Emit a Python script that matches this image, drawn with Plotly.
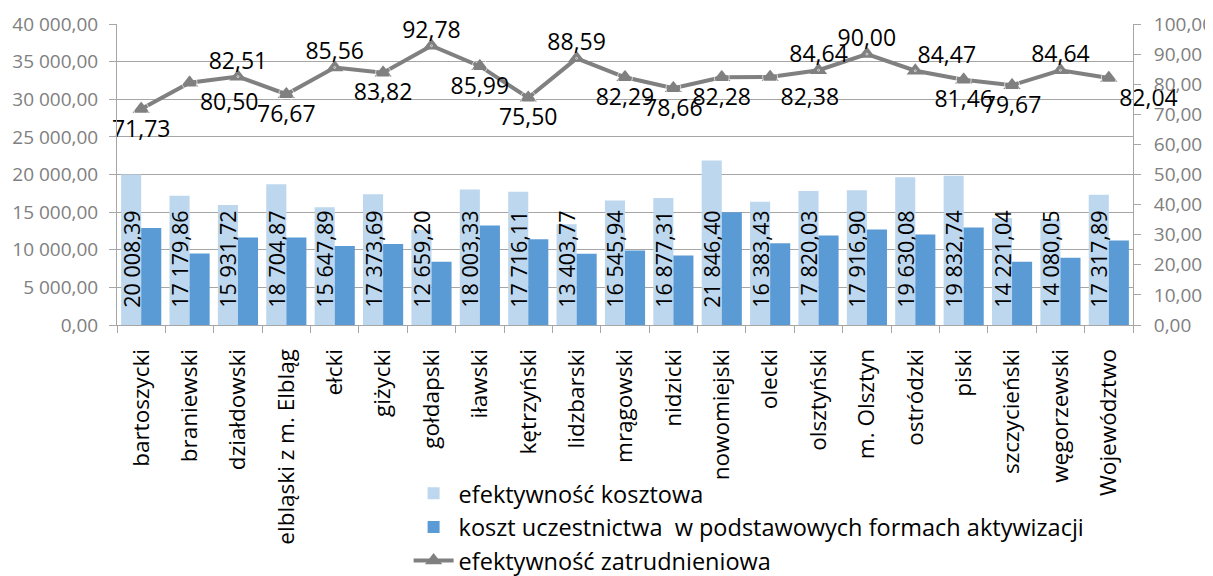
import plotly.graph_objects as go

categories = ["bartoszycki", "braniewski", "działdowski", "elbląski z m. Elbląg", "ełcki",
              "giżycki", "gołdapski", "iławski", "kętrzyński", "lidzbarski", "mrągowski",
              "nidzicki", "nowomiejski", "olecki", "olsztyński", "m. Olsztyn", "ostródzki",
              "piski", "szczycieński", "węgorzewski", "Województwo"]

efektywnosc_kosztowa = [20008.39, 17179.86, 15931.72, 18704.87, 15647.89, 17373.69, 12659.20,
                        18003.33, 17716.11, 13403.77, 16545.94, 16877.31, 21846.40, 16383.43,
                        17820.03, 17916.90, 19630.08, 19832.74, 14221.04, 14080.05, 17317.89]

koszt_uczestnictwa = [12900, 9500, 11630, 11620, 10510, 10780, 8400, 13220, 11400, 9460, 9900,
                      9240, 14980, 10870, 11890, 12690, 12020, 12950, 8400, 8930, 11230]

efektywnosc_zatrudnieniowa = [71.73, 80.50, 82.51, 76.67, 85.56, 83.82, 92.78, 85.99, 75.50,
                              88.59, 82.29, 78.66, 82.28, 82.38, 84.64, 90.00, 84.47, 81.46,
                              79.67, 84.64, 82.04]

line_label_pos = ["bottom center", "bottom right", "top center", "bottom center", "top center",
                  "bottom center", "top center", "bottom center", "bottom center", "top center",
                  "bottom center", "bottom center", "bottom center", "bottom right", "top center",
                  "top center", "top right", "bottom center", "bottom center", "top center",
                  "bottom right"]

FONT = "Open Sans"

def fmt(v):
    s = f"{v:,.2f}"
    return s.replace(",", " ").replace(".", ",")

# label offset from point: smaller for labels placed above the line
label_gap = [2 if p.startswith("top") else 15 for p in line_label_pos]

fig = go.Figure()

fig.add_trace(go.Bar(
    x=categories, y=efektywnosc_kosztowa, name="efektywność kosztowa",
    marker=dict(color="#BDD7EE", line=dict(width=0)),
    text=["\u2002\u2009" + fmt(v) for v in efektywnosc_kosztowa],
    textposition="inside", insidetextanchor="start", textangle=-90,
    constraintext="none",
    textfont=dict(family=FONT, size=21.5, color="black"),
    hoverinfo="skip",
))

fig.add_trace(go.Bar(
    x=categories, y=koszt_uczestnictwa,
    name="koszt uczestnictwa  w podstawowych formach aktywizacji",
    marker=dict(color="#5B9BD5", line=dict(width=0)),
))

fig.add_trace(go.Scatter(
    x=categories, y=efektywnosc_zatrudnieniowa, yaxis="y2",
    name="efektywność zatrudnieniowa",
    mode="lines+markers",
    line=dict(color="#808080", width=4),
    marker=dict(symbol="triangle-up", size=15, color="#808080"),
    cliponaxis=False,
))

fig.add_trace(go.Scatter(
    x=categories, y=efektywnosc_zatrudnieniowa, yaxis="y2",
    mode="markers+text", showlegend=False, hoverinfo="skip",
    marker=dict(size=label_gap, color="rgba(0,0,0,0)"),
    text=[fmt(v) for v in efektywnosc_zatrudnieniowa],
    textposition=line_label_pos,
    textfont=dict(family=FONT, size=23, color="black"),
    cliponaxis=False,
))

# page body has an 8px default margin; figure sized to fit inside the window
fig.update_layout(
    width=1205, height=568,
    separators=", ",
    paper_bgcolor="white", plot_bgcolor="white",
    margin=dict(l=109, r=80, t=16, b=251, autoexpand=False),
    barmode="group", bargap=0.17, bargroupgap=0,
    font=dict(family=FONT, size=20, color="black"),
    showlegend=True,
    legend=dict(x=0.287, y=-0.487, xanchor="left", yanchor="top",
                font=dict(family=FONT, size=23.5, color="black"),
                bgcolor="rgba(0,0,0,0)", tracegroupgap=0, itemwidth=40),
    xaxis=dict(
        range=[-0.5, len(categories) - 0.5], automargin=False,
        tickangle=-90, tickfont=dict(family=FONT, size=22.5, color="black"),
        ticklabelstandoff=14,
        showline=True, linecolor="#A6A6A6", linewidth=1,
        ticks="outside", tickson="boundaries", ticklen=7, tickcolor="#A6A6A6",
        showgrid=False,
    ),
    yaxis=dict(
        range=[0, 40000], dtick=5000, tickformat=",.2f", automargin=False,
        tickfont=dict(family=FONT, size=19, color="#808080"),
        ticklabelstandoff=7,
        showgrid=True, gridcolor="#A6A6A6", gridwidth=1,
        showline=True, linecolor="#A6A6A6",
        ticks="outside", ticklen=7, tickcolor="#A6A6A6",
        zeroline=False,
    ),
    yaxis2=dict(
        range=[0, 100], dtick=10, tickformat=",.2f", overlaying="y", side="right",
        automargin=False,
        tickfont=dict(family=FONT, size=19, color="#808080"),
        ticklabelstandoff=9,
        showgrid=False, showline=True, linecolor="#A6A6A6",
        ticks="outside", ticklen=7, tickcolor="#A6A6A6",
        zeroline=False,
    ),
)

fig.write_html("out.html")
